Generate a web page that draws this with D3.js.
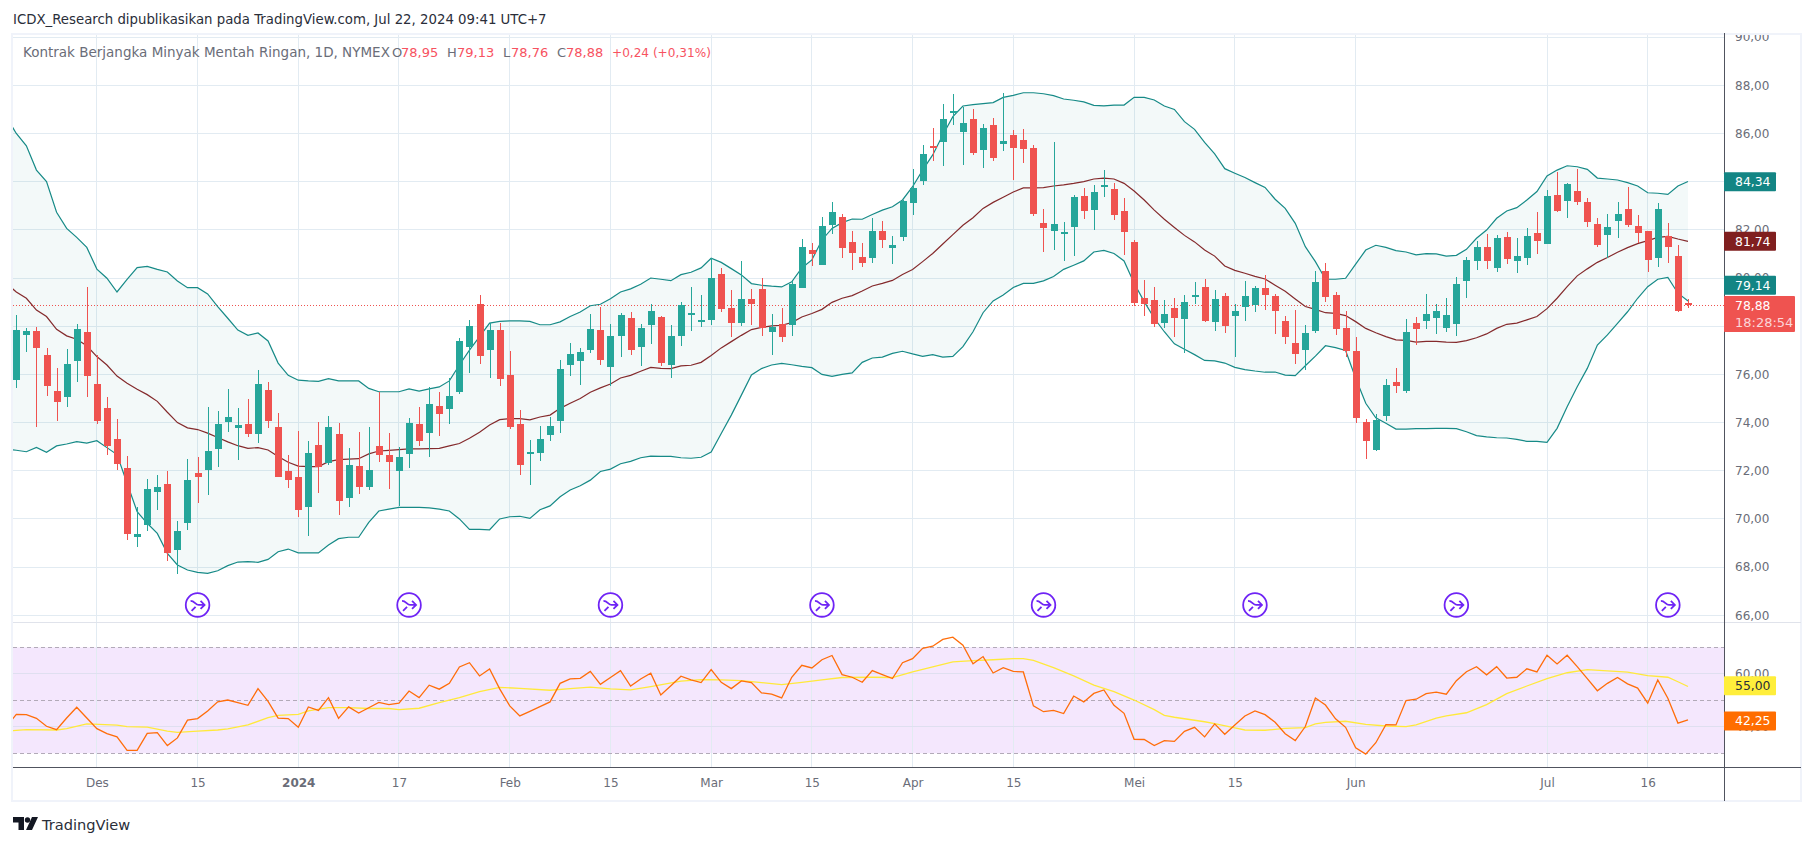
<!DOCTYPE html>
<html>
<head>
<meta charset="utf-8">
<script src="https://cdn.jsdelivr.net/npm/d3@7"></script>
<style>
  html, body { margin: 0; padding: 0; background: #fff; }
  svg { display: block; }
  text { font-family: "DejaVu Sans", sans-serif; }
</style>
</head>
<body>
<div id="chart"></div>
<script>
/* global d3 */
// Candles
const open = [75.77,77.64,77.80,76.81,75.31,75.06,76.56,77.76,75.60,74.61,73.32,72.12,69.25,69.75,71.12,71.45,68.71,69.83,71.91,72.03,72.91,74.03,73.78,73.94,73.53,75.35,73.82,71.99,71.74,70.50,73.07,72.32,73.53,70.87,72.20,71.33,73.03,72.66,71.99,72.70,73.94,73.57,74.69,74.56,
  75.27,77.14,78.92,77.01,77.84,75.98,73.94,72.74,72.74,73.49,74.07,76.39,76.56,77.01,77.84,76.31,77.59,78.34,77.14,78.05,78.38,76.39,77.59,78.47,78.18,78.26,80.17,78.76,78.13,79.13,79.55,77.76,78.09,78.05,79.59,81.16,80.54,82.20,82.53,81.50,80.87,80.83,81.95,81.25,
  81.70,83.11,84.03,85.48,85.65,86.85,86.06,86.60,85.31,86.35,85.56,85.94,85.73,85.40,82.28,81.95,81.83,82.12,83.40,82.82,83.82,83.70,82.78,81.50,79.17,79.09,78.13,78.76,78.30,79.25,79.63,78.17,79.25,78.42,78.80,78.88,79.59,79.25,78.22,77.30,77.01,77.80,80.29,79.30,
  77.93,76.97,74.02,72.86,74.27,75.69,75.31,78.13,78.22,78.34,77.93,78.09,79.88,80.71,81.29,80.42,81.70,80.71,80.83,81.87,81.41,83.45,83.20,83.61,83.16,82.24,81.79,82.37,82.87,82.16,81.95,80.83,81.75,80.91,78.95]
const high = [78.47,77.91,77.96,77.10,76.27,77.06,78.09,79.64,76.81,75.06,74.15,72.61,70.50,71.66,71.83,71.99,69.92,72.49,72.57,74.65,74.48,75.40,74.61,74.98,76.18,75.69,74.40,72.66,73.65,73.24,74.03,74.27,73.98,72.95,73.61,73.82,75.27,73.57,72.99,74.19,74.65,75.48,75.27,75.85,
  77.51,78.26,79.30,78.13,78.13,76.97,74.52,73.28,73.86,74.23,76.60,77.30,77.10,78.51,78.80,78.09,78.55,78.59,78.09,78.92,78.42,78.05,79.01,79.63,79.30,80.83,80.42,79.50,80.71,79.55,80.00,78.51,78.76,79.88,81.62,81.45,82.53,83.16,82.66,81.95,81.45,82.49,82.37,81.75,
  83.24,84.53,85.52,86.23,87.22,87.64,87.10,87.02,86.39,86.64,87.68,86.14,86.19,85.52,82.87,85.65,82.33,83.45,83.74,83.86,84.48,83.94,83.32,81.58,79.92,79.63,79.09,79.17,79.30,79.83,79.96,79.50,79.38,78.92,79.88,79.67,80.13,79.34,78.42,78.67,78.05,80.29,80.62,79.42,
  78.63,77.55,74.15,74.36,75.81,76.27,78.30,78.38,79.34,78.92,79.17,80.04,80.87,81.54,81.83,81.79,81.91,81.66,82.08,82.74,83.65,84.40,83.95,84.53,83.32,82.49,82.66,83.16,83.78,82.62,81.95,83.11,82.28,81.37,79.13]
const low = [75.44,76.95,73.83,75.10,74.07,74.65,75.69,75.06,73.94,72.66,72.03,69.13,68.84,69.50,70.37,68.26,67.72,69.54,70.66,71.00,72.16,73.61,72.45,73.40,73.15,73.78,71.74,71.29,70.08,69.29,71.08,72.24,70.17,70.50,71.04,71.20,72.37,71.24,70.54,72.12,73.03,72.57,73.44,73.94,
  75.19,76.06,76.43,75.85,75.52,73.73,71.82,71.41,72.41,73.24,73.57,75.93,75.56,76.89,76.39,75.52,76.72,76.81,76.35,77.26,76.35,75.85,77.18,77.80,77.97,78.05,78.59,77.55,78.01,78.05,77.59,76.81,77.35,77.59,79.59,80.50,80.54,81.83,80.83,80.33,80.46,80.62,81.25,80.58,
  81.54,82.62,83.86,84.86,84.65,86.35,84.69,85.11,84.57,84.86,85.27,84.07,84.77,82.57,81.08,81.16,80.71,80.91,82.45,81.99,83.36,82.41,80.96,78.84,78.42,77.97,77.93,77.55,76.89,78.92,78.17,77.80,77.72,76.72,78.22,78.59,78.67,77.68,77.26,76.43,76.18,77.72,79.00,77.63,
  76.72,73.98,72.49,72.82,74.07,75.23,75.23,77.22,77.88,77.68,77.76,77.59,79.17,80.33,80.38,80.25,80.58,80.21,80.54,81.00,81.41,82.74,82.49,83.03,82.12,81.29,80.83,81.66,82.12,81.45,80.25,80.46,80.62,78.59,78.76]
const close = [77.84,77.80,77.10,75.52,74.86,76.43,77.89,75.94,74.07,73.03,72.28,69.38,69.38,71.24,71.33,68.59,69.50,71.62,71.74,72.82,73.94,74.23,73.90,73.53,75.60,74.07,71.74,71.62,70.37,72.74,72.16,73.82,70.75,72.24,71.33,72.03,72.66,72.37,72.57,73.98,73.24,74.77,74.36,75.10,
  77.39,78.01,76.76,77.84,75.81,73.82,72.24,72.78,73.32,73.86,76.22,76.85,76.93,77.89,76.60,77.59,78.47,77.01,77.93,78.63,76.47,77.59,78.88,78.55,78.26,80.00,78.72,78.13,79.13,78.92,77.93,77.97,77.55,79.75,81.29,81.00,82.16,82.74,81.25,81.04,80.62,81.95,81.58,81.37,
  83.20,83.74,85.15,85.44,86.60,86.93,86.44,85.19,86.23,84.98,85.69,85.40,85.36,82.66,82.08,82.24,81.91,83.36,82.78,83.57,83.86,82.62,81.91,78.96,78.92,78.09,78.51,78.34,79.00,79.30,78.22,79.13,78.01,78.63,79.25,79.59,79.30,78.63,77.55,76.85,77.72,79.83,79.21,77.88,
  76.97,74.19,73.23,74.11,75.56,75.52,77.76,77.88,78.51,78.63,78.47,79.75,80.75,81.29,80.71,81.66,80.79,80.91,81.75,81.54,83.41,82.78,83.90,83.16,82.33,81.37,82.12,82.66,82.20,81.87,80.75,82.87,81.29,78.63,78.88]

// Bollinger bands, one value per bar, first one belongs to the bar just off the left edge
const bbUpper = [86.70,86.00,85.49,84.48,84.00,82.73,82.06,81.69,81.27,80.37,79.99,79.42,79.94,80.43,80.48,80.36,80.25,79.88,79.60,79.60,79.34,78.81,78.33,77.84,77.62,77.72,77.39,76.47,75.96,75.76,75.73,75.71,75.82,75.73,75.73,75.73,75.42,75.28,75.28,75.28,75.40,75.31,75.40,75.48,75.73,
  76.39,77.01,77.57,78.13,78.20,78.22,78.22,78.20,78.06,78.06,78.18,78.40,78.59,78.85,78.91,79.14,79.42,79.55,79.74,80.00,79.95,79.89,80.14,80.24,80.42,80.82,80.65,80.39,80.13,79.77,79.70,79.66,79.63,79.84,80.42,80.75,81.58,82.06,82.30,82.45,82.44,82.64,82.82,82.96,
  83.24,83.79,84.48,85.11,85.94,86.70,87.14,87.20,87.24,87.28,87.50,87.58,87.69,87.69,87.65,87.57,87.43,87.38,87.31,87.17,87.15,87.18,87.18,87.50,87.50,87.39,87.14,87.00,86.49,86.17,85.63,85.15,84.54,84.35,84.17,83.96,83.76,83.27,82.89,82.27,81.30,80.68,79.95,79.95,
  79.99,80.58,81.16,81.36,81.27,81.14,81.08,80.96,81.01,81.00,80.91,80.94,81.19,81.65,81.99,82.48,82.78,82.92,83.24,83.59,84.24,84.48,84.66,84.62,84.51,84.15,84.11,84.07,83.96,83.82,83.54,83.52,83.47,83.82,84.01]
const bbBasis = [79.78,79.42,79.16,78.67,78.40,77.87,77.60,77.46,77.19,76.74,76.39,75.93,75.63,75.38,75.16,74.88,74.43,74.00,73.78,73.71,73.56,73.38,73.20,73.04,72.93,72.96,72.86,72.59,72.35,72.19,72.17,72.17,72.38,72.46,72.48,72.50,72.70,72.82,72.85,72.88,72.91,72.91,72.92,72.93,73.03,
  73.13,73.35,73.60,73.90,74.12,74.16,74.16,74.11,74.23,74.31,74.59,74.80,75.00,75.26,75.44,75.60,75.85,75.96,76.13,76.29,76.25,76.24,76.35,76.38,76.50,76.78,77.10,77.36,77.62,77.86,77.95,78.01,78.04,78.15,78.38,78.53,78.70,78.99,79.16,79.27,79.46,79.67,79.78,79.90,
  80.15,80.35,80.68,81.02,81.41,81.80,82.19,82.50,82.89,83.14,83.35,83.57,83.74,83.74,83.75,83.82,83.87,83.93,84.00,84.11,84.15,84.11,83.93,83.61,83.24,82.82,82.44,82.10,81.77,81.50,81.16,80.91,80.50,80.32,80.20,80.07,79.96,79.70,79.45,79.13,78.82,78.70,78.56,78.53,
  78.44,78.19,77.91,77.73,77.57,77.43,77.41,77.34,77.37,77.37,77.34,77.33,77.40,77.52,77.68,77.91,78.08,78.13,78.26,78.40,78.73,79.16,79.64,80.09,80.38,80.65,80.85,81.07,81.26,81.43,81.55,81.69,81.73,81.62,81.52]
const bbLower = [72.89,72.85,72.79,72.97,72.77,73.03,73.11,73.21,73.15,73.25,72.96,72.67,71.48,70.30,69.82,69.40,68.57,68.09,67.88,67.78,67.74,67.85,68.06,68.21,68.23,68.20,68.32,68.64,68.75,68.59,68.59,68.59,68.92,69.18,69.24,69.24,69.86,70.33,70.41,70.48,70.48,70.48,70.46,70.41,70.33,
  70.00,69.57,69.57,69.55,70.00,70.09,70.11,70.02,70.38,70.54,70.92,71.20,71.38,71.61,71.97,72.07,72.29,72.39,72.54,72.61,72.60,72.60,72.54,72.52,72.56,72.78,73.55,74.31,75.14,75.98,76.24,76.39,76.46,76.40,76.33,76.28,76.00,75.92,76.00,76.06,76.50,76.68,76.72,76.87,
  76.96,76.85,76.75,76.82,76.72,76.75,77.15,77.77,78.56,79.05,79.30,79.61,79.78,79.78,79.88,80.06,80.36,80.53,80.71,81.08,81.15,81.02,80.71,79.78,79.02,78.33,77.77,77.27,77.04,76.82,76.58,76.56,76.47,76.29,76.20,76.14,76.09,76.10,75.97,75.95,76.36,76.76,77.19,77.11,
  76.99,75.84,74.80,74.20,73.97,73.73,73.73,73.75,73.75,73.76,73.76,73.75,73.62,73.46,73.41,73.37,73.36,73.30,73.22,73.22,73.18,73.76,74.66,75.49,76.25,77.22,77.64,78.12,78.60,79.16,79.64,79.95,80.03,79.37,79.05]

// RSI, same bars, same leading value
const rsi = [40.0,44.7,44.6,43.2,40.2,38.9,43.3,47.4,43.3,39.3,37.4,36.2,31.1,31.1,37.5,37.8,32.9,35.8,42.5,43.1,46.0,49.4,50.1,49.1,48.1,54.4,49.6,43.3,43.1,39.8,47.5,46.2,51.0,43.2,47.5,45.2,47.2,49.2,48.4,48.9,53.5,51.0,55.7,54.2,56.4,62.6,64.2,59.2,61.8,54.3,47.9,44.1,45.8,47.6,49.4,56.4,58.1,58.3,60.9,56.0,58.6,61.2,
  55.4,58.05,60.2,52.0,55.5,59.1,57.7,56.7,61.6,56.8,54.4,57.3,56.7,52.8,52.3,50.9,58.7,63.2,62.2,65.3,66.9,59.7,58.7,56.8,61.2,59.7,58.2,64.2,65.7,69.6,70.4,73.0,73.8,70.8,63.8,66.5,60.3,62.3,60.9,60.7,47.9,45.7,46.2,45.0,51.6,49.4,52.6,53.9,48.1,45.1,35.3,35.2,32.9,34.8,34.5,38.3,39.8,36.2,41.1,37.2,
  40.7,44.1,46.0,44.6,41.7,37.4,34.8,40.1,50.9,48.2,43.0,39.8,32.1,29.7,34.0,40.8,40.7,49.9,50.4,52.5,53.1,52.3,57.4,60.8,62.7,59.6,62.7,58.4,58.7,61.9,60.7,67.0,63.7,67.0,62.7,58.2,53.6,56.4,58.6,56.2,54.6,48.9,57.7,50.8,41.4,42.6]
// RSI moving average, read at the bars listed in rsiMaBar
const rsiMaBar = [-1,1,4,5,7,10,11,13,15,16,18,20,21,23,25,26,28,29,31,33,35,37,38,40,42,44,46,48,50,53,55,57,59,61,63,66,68,70,72,74,76,78,80,82,85,87,89,91,93,95,97,99,100,101,103,105,107,109,111,113,114,115,118,119,121,122,124,126,128,129,130,132,134,136,138,139,141,142,144,146,148,150,152,154,156,158,160,162,164,165,166]
const rsiMa = [38.4,38.9,38.8,39.3,41.1,40.6,40.1,39.9,38.4,37.9,38.4,38.8,39.2,40.7,43.5,44.3,44.7,46.0,47.2,47.2,46.9,46.9,46.5,47.0,49.1,51.0,53.3,54.9,54.5,53.8,54.4,55.0,54.3,53.9,55.2,57.2,57.8,57.7,57.4,56.7,55.9,56.8,57.7,58.6,58.7,58.6,60.7,62.6,64.5,65.0,65.3,65.7,65.7,65.1,62.3,59.2,55.7,53.3,50.1,46.5,44.3,43.6,41.9,41.2,39.6,38.8,38.7,39.4,39.7,41.1,41.7,42.1,40.9,40.3,40.1,40.7,43.3,44.1,45.3,48.4,52.5,55.4,58.2,60.4,61.6,61.1,60.6,59.3,58.7,57.0,55.2]

// Axes
const priceTicks = [66, 68, 70, 72, 74, 76, 78, 80, 82, 84, 86, 88, 90]
const rsiTicks = [60, 40]
const rsiBands = [70, 50, 30]
const timeBars = [8, 18, 28, 38, 49, 59, 69, 79, 89, 99, 111, 121, 133, 152, 162]
const timeLabels = ['Des', '15', '2024', '17', 'Feb', '15', 'Mar', '15', 'Apr', '15', 'Mei', '15', 'Jun', 'Jul', '16']
const dividendBars = [18, 39, 59, 80, 102, 123, 143, 164]

// Our canvas
const width = 1814,
      height = 846,
      plotLeft = 13,
      plotRight = 1724,
      outerRight = 1801,
      plotTop = 35,
      paneBottom = 622.3,
      rsiBottom = 767.3,
      outerBottom = 801

const lastBar = open.length - 1

const xScale = d3.scaleLinear().domain([0, lastBar]).range([16.3, 1688])
const yScale = d3.scaleLinear().domain([66, 88]).range([615.3, 85.3])
const rsiScale = d3.scaleLinear().domain([30, 70]).range([753.3, 647.3])

const comma = v => v.toFixed(2).replace('.', ',')

const gridColor = '#e2ebf2'
const upColor = '#26a69a'
const downColor = '#ef5350'
const bandColor = '#168a87'
const basisColor = '#842a2c'
const axisText = '#6a6d78'

let svg = d3.select('#chart')
  .append('svg')
  .attr('width', width)
  .attr('height', height)

let defs = svg.append('defs')
defs.append('clipPath').attr('id', 'mainClip').append('rect')
  .attr('x', plotLeft).attr('y', plotTop).attr('width', plotRight - plotLeft).attr('height', paneBottom - plotTop)
defs.append('clipPath').attr('id', 'rsiClip').append('rect')
  .attr('x', plotLeft).attr('y', paneBottom).attr('width', plotRight - plotLeft).attr('height', rsiBottom - paneBottom)
defs.append('clipPath').attr('id', 'axisClip').append('rect')
  .attr('x', 0).attr('y', plotTop).attr('width', outerRight - plotRight).attr('height', paneBottom - plotTop)

// Publication line above the chart
svg.append('text')
  .attr('x', 13).attr('y', 20)
  .attr('dominant-baseline', 'middle')
  .attr('font-size', 13.3).attr('fill', '#2a2e39')
  .text('ICDX_Research dipublikasikan pada TradingView.com, Jul 22, 2024 09:41 UTC+7')

// RSI background goes below the grid
svg.append('rect')
  .attr('x', plotLeft).attr('width', plotRight - plotLeft)
  .attr('y', rsiScale(70)).attr('height', rsiScale(30) - rsiScale(70))
  .attr('fill', '#f4e7fd')

// Grid
let grid = svg.append('g').attr('shape-rendering', 'crispEdges')

grid.selectAll('line.h')
  .data(priceTicks)
  .enter().append('line')
  .attr('class', 'h')
  .attr('x1', plotLeft).attr('x2', plotRight)
  .attr('y1', d => yScale(d)).attr('y2', d => yScale(d))
  .attr('stroke', gridColor)

grid.selectAll('line.v')
  .data(timeBars)
  .enter().append('line')
  .attr('class', 'v')
  .attr('x1', d => xScale(d)).attr('x2', d => xScale(d))
  .attr('y1', plotTop).attr('y2', rsiBottom)
  .attr('stroke', gridColor)

grid.selectAll('line.r')
  .data(rsiTicks)
  .enter().append('line')
  .attr('class', 'r')
  .attr('x1', plotLeft).attr('x2', plotRight)
  .attr('y1', d => rsiScale(d)).attr('y2', d => rsiScale(d))
  .attr('stroke', '#dfdff0')

// Main pane
let main = svg.append('g').attr('clip-path', 'url(#mainClip)')

const line = (values) => d3.line()
  .x((d, i) => xScale(i - 1))
  .y(d => yScale(d))(values)

let bandArea = d3.area()
  .x((d, i) => xScale(i - 1))
  .y0((d, i) => yScale(bbLower[i]))
  .y1(d => yScale(d))

main.append('path')
  .attr('d', bandArea(bbUpper))
  .attr('fill', '#138584')
  .attr('fill-opacity', 0.05)

// Last price line
main.append('line')
  .attr('x1', plotLeft).attr('x2', plotRight)
  .attr('y1', yScale(close[lastBar])).attr('y2', yScale(close[lastBar]))
  .attr('stroke', downColor)
  .attr('stroke-dasharray', '1 2')
  .attr('shape-rendering', 'crispEdges')

main.append('path').attr('d', line(bbUpper)).attr('fill', 'none').attr('stroke', bandColor).attr('stroke-width', 1.2)
main.append('path').attr('d', line(bbLower)).attr('fill', 'none').attr('stroke', bandColor).attr('stroke-width', 1.2)
main.append('path').attr('d', line(bbBasis)).attr('fill', 'none').attr('stroke', basisColor).attr('stroke-width', 1.2)

let candles = main.selectAll('g.candle')
  .data(open)
  .enter().append('g')
  .attr('class', 'candle')
  .attr('shape-rendering', 'crispEdges')
  .attr('fill', (d, i) => close[i] >= d ? upColor : downColor)

candles.append('rect')
  .attr('x', (d, i) => Math.round(xScale(i)))
  .attr('width', 1)
  .attr('y', (d, i) => yScale(high[i]))
  .attr('height', (d, i) => yScale(low[i]) - yScale(high[i]))

candles.append('rect')
  .attr('x', (d, i) => Math.round(xScale(i)) - 3)
  .attr('width', 7)
  .attr('y', (d, i) => yScale(Math.max(d, close[i])))
  .attr('height', (d, i) => Math.max(2, Math.abs(yScale(d) - yScale(close[i]))))

// Dividend markers
let markers = main.selectAll('g.marker')
  .data(dividendBars)
  .enter().append('g')
  .attr('class', 'marker')
  .attr('transform', d => `translate(${xScale(d)},${yScale(66.43)})`)
  .attr('fill', 'none')
  .attr('stroke', '#6f24f5')
  .attr('stroke-width', 1.8)

markers.append('circle').attr('r', 11.8).attr('fill', '#fff')
markers.append('path').attr('d', 'M-7,-4 C-3,-4 -2,0 1,0 L7,0 M3,-4 L7,0 L3,4 M-6,6 L-2,2')

// RSI pane
let rsiPane = svg.append('g').attr('clip-path', 'url(#rsiClip)')

rsiPane.selectAll('line.band')
  .data(rsiBands)
  .enter().append('line')
  .attr('class', 'band')
  .attr('x1', plotLeft).attr('x2', plotRight)
  .attr('y1', d => rsiScale(d)).attr('y2', d => rsiScale(d))
  .attr('stroke', '#b2aab8')
  .attr('stroke-dasharray', '4 3')
  .attr('shape-rendering', 'crispEdges')

rsiPane.append('path')
  .attr('d', d3.line().x((d, i) => xScale(rsiMaBar[i])).y(d => rsiScale(d))(rsiMa))
  .attr('fill', 'none')
  .attr('stroke', '#ffe93b')
  .attr('stroke-width', 1.3)

rsiPane.append('path')
  .attr('d', d3.line().x((d, i) => xScale(i - 1)).y(d => rsiScale(d))(rsi))
  .attr('fill', 'none')
  .attr('stroke', '#ff6d0a')
  .attr('stroke-width', 1.3)

// Frame lines
let frame = svg.append('g').attr('shape-rendering', 'crispEdges')

frame.append('rect')
  .attr('x', plotLeft - 1).attr('y', plotTop - 1.5)
  .attr('width', outerRight - plotLeft + 1).attr('height', outerBottom - plotTop + 1.5)
  .attr('fill', 'none')
  .attr('stroke', '#f0f3fa')
  .attr('stroke-width', 2)

frame.append('line')
  .attr('x1', plotLeft).attr('x2', outerRight)
  .attr('y1', paneBottom).attr('y2', paneBottom)
  .attr('stroke', '#e0e3eb')

frame.append('line')
  .attr('x1', plotLeft).attr('x2', outerRight)
  .attr('y1', rsiBottom).attr('y2', rsiBottom)
  .attr('stroke', '#50535e')

frame.append('line')
  .attr('x1', plotRight).attr('x2', plotRight)
  .attr('y1', plotTop - 2).attr('y2', outerBottom)
  .attr('stroke', '#50535e')

// Value axes, hung on the right side
let priceAxis = svg.append('g')
  .attr('transform', `translate(${plotRight},0)`)
  .attr('clip-path', 'url(#axisClip)')
  .call(d3.axisRight(yScale).tickValues(priceTicks).tickFormat(comma).tickSize(0).tickPadding(11))

let rsiAxis = svg.append('g')
  .attr('transform', `translate(${plotRight},0)`)
  .call(d3.axisRight(rsiScale).tickValues(rsiTicks).tickFormat(comma).tickSize(0).tickPadding(11))

// Time axis
let timeAxis = svg.append('g')
  .attr('transform', `translate(0,${rsiBottom})`)
  .call(d3.axisBottom(xScale).tickValues(timeBars).tickFormat((d, i) => timeLabels[i]).tickSize(0).tickPadding(11))

timeAxis.selectAll('text')
  .attr('font-weight', (d, i) => timeLabels[i] === '2024' ? 'bold' : 'normal')

svg.selectAll('.domain').remove()
svg.selectAll('.tick text')
  .attr('font-family', '"DejaVu Sans", sans-serif')
  .attr('font-size', 12)
  .attr('fill', axisText)

// Last value tags
const tag = (label, y, w, bg, fg) => {
  let g = svg.append('g').attr('transform', `translate(${plotRight},${y})`)
  g.append('rect').attr('x', 0).attr('y', -9.5).attr('width', w).attr('height', 19).attr('rx', 1).attr('fill', bg)
  g.append('text')
    .attr('x', 11).attr('y', 0)
    .attr('dominant-baseline', 'central')
    .attr('font-size', 12.4).attr('fill', fg)
    .text(label)
}

tag('84,34', yScale(84.0), 52, '#138584', '#fff')
tag('81,74', yScale(81.53), 52, '#801f1f', '#fff')
tag('79,14', yScale(79.7), 52, '#138584', '#fff')
tag('55,00', rsiScale(55.5), 52, '#ffee3b', '#2a2e39')
tag('42,25', rsiScale(42.2), 52, '#ff6d00', '#fff')

// Close price tag with the countdown
let closeTag = svg.append('g').attr('transform', `translate(${plotRight},${yScale(78.88)})`)
closeTag.append('rect').attr('x', 0).attr('y', -9).attr('width', 71).attr('height', 36).attr('rx', 1).attr('fill', downColor)
closeTag.append('text').attr('x', 11).attr('y', 0).attr('dominant-baseline', 'central').attr('font-size', 12.4).attr('fill', '#fff').text(comma(close[lastBar]))
closeTag.append('text').attr('x', 11).attr('y', 17).attr('dominant-baseline', 'central').attr('font-size', 13).attr('fill', '#fcd6d8').text('18:28:54')

// Legend line
const legend = [
  ['Kontrak Berjangka Minyak Mentah Ringan, 1D, NYMEX', 23, axisText, 13.5],
  ['O', 392, axisText, 13], ['78,95', 401, '#f7525f', 13],
  ['H', 447, axisText, 13], ['79,13', 457, '#f7525f', 13],
  ['L', 503, axisText, 13], ['78,76', 511, '#f7525f', 13],
  ['C', 557, axisText, 13], ['78,88', 566, '#f7525f', 13],
  ['+0,24 (+0,31%)', 612, '#f7525f', 12.1]
]
svg.append('g').selectAll('text')
  .data(legend)
  .enter().append('text')
  .attr('x', d => d[1]).attr('y', 53)
  .attr('dominant-baseline', 'middle')
  .attr('font-size', d => d[3])
  .attr('fill', d => d[2])
  .text(d => d[0])

// TradingView mark
let brand = svg.append('g').attr('transform', 'translate(13,824)')
brand.append('path').attr('fill', '#131722')
  .attr('d', 'M0,-7 H11 V6 H5.5 V-1.5 H0 Z M19,-7 H25 L19,6 H13 Z')
brand.append('circle').attr('cx', 14.5).attr('cy', -4).attr('r', 2.7).attr('fill', '#131722')
brand.append('text')
  .attr('x', 29).attr('y', 0)
  .attr('dominant-baseline', 'central')
  .attr('font-family', '"Liberation Sans", sans-serif')
  .attr('font-size', 14.6).attr('fill', '#2a2e39')
  .text('TradingView')
</script>
</body>
</html>
